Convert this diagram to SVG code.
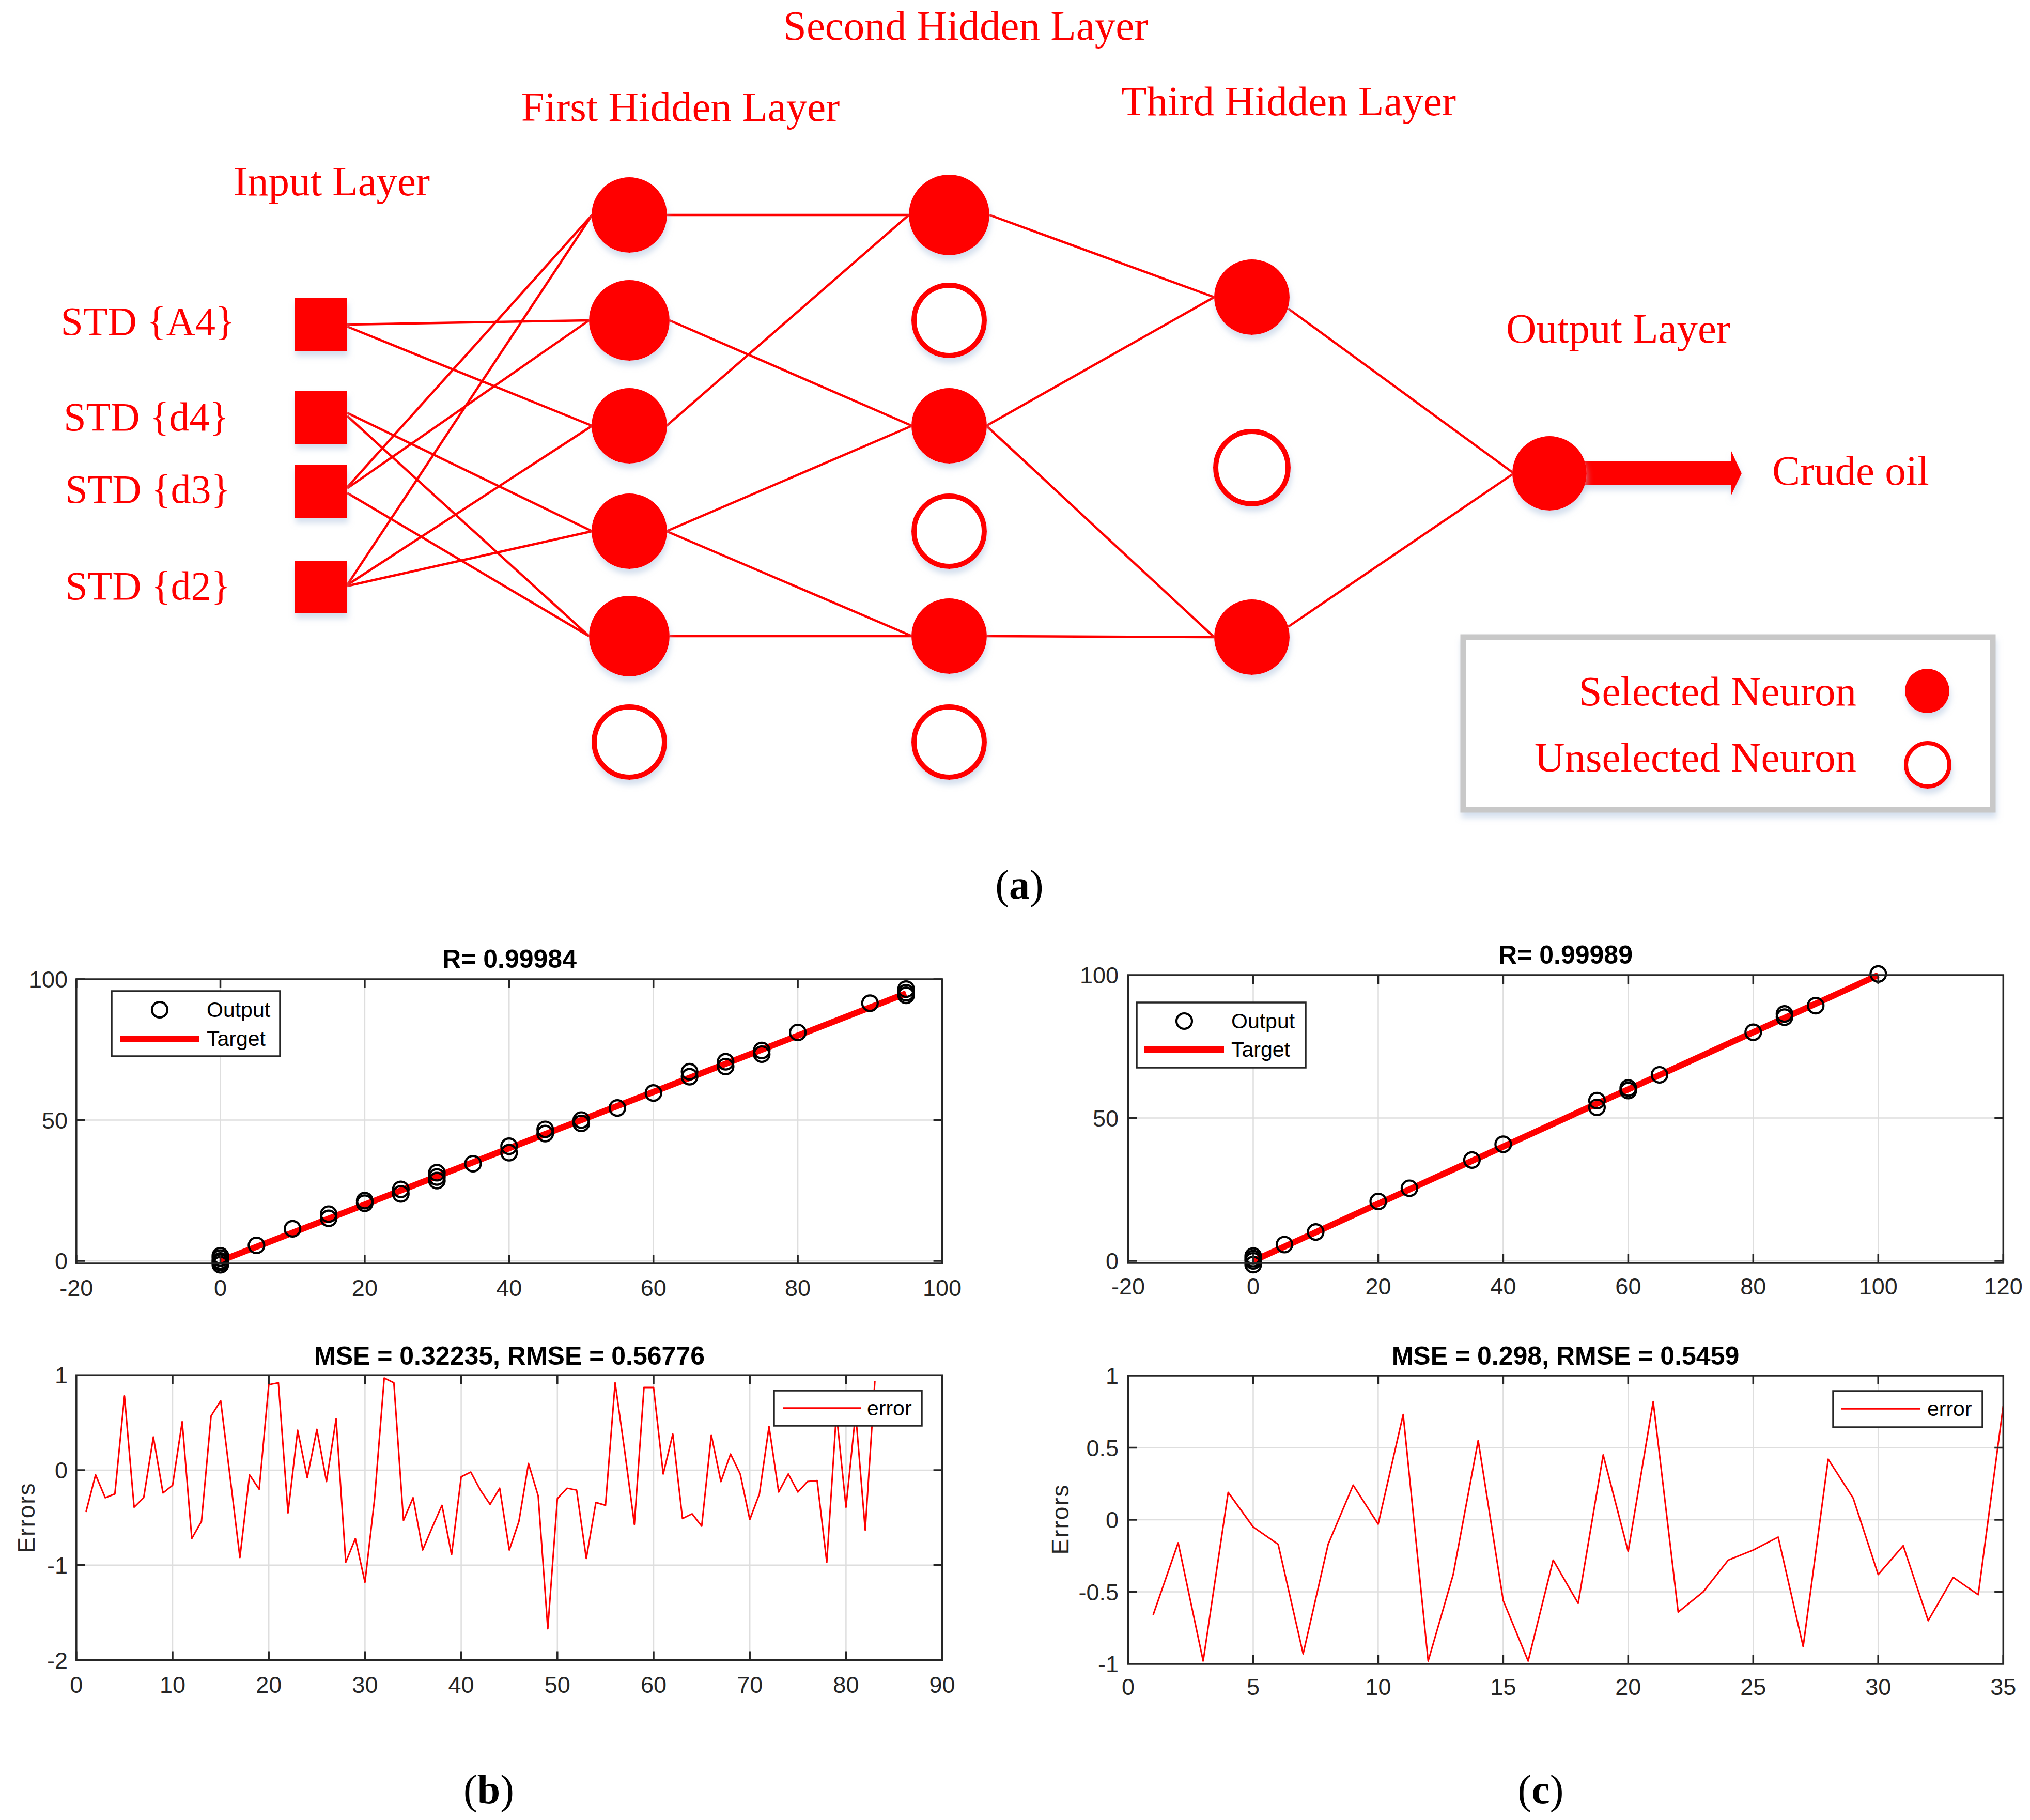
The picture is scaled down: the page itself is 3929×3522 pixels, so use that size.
<svg xmlns="http://www.w3.org/2000/svg" width="3929" height="3522" viewBox="0 0 3929 3522">
<defs>
<filter id="sh" x="-40%" y="-40%" width="180%" height="190%">
<feDropShadow dx="2" dy="10" stdDeviation="6" flood-color="#a9c0dd" flood-opacity="0.5"/>
</filter>
</defs>
<style>
.t{font-family:"Liberation Serif","Times New Roman",serif;fill:#ff0000;font-size:81px;text-anchor:middle}
.lbl{font-family:"Liberation Serif","Times New Roman",serif;fill:#ff0000;font-size:78px;text-anchor:middle}
.cap{font-family:"Liberation Serif","Times New Roman",serif;fill:#000;font-size:80px;text-anchor:middle}
.conn line{stroke:#ff0000;stroke-width:4.5}
.on{fill:#ff0000;filter:url(#sh)}
.off{fill:#ffffff;stroke:#ff0000;stroke-width:10;filter:url(#sh)}
.ax{fill:none;stroke:#262626;stroke-width:3.5}
.grid{fill:none;stroke:#dedede;stroke-width:2.5}
.tk{font-family:"Liberation Sans",Arial,sans-serif;font-size:45px;fill:#262626}
.tx{text-anchor:middle}
.ty{text-anchor:end}
.ttl{font-family:"Liberation Sans",Arial,sans-serif;font-size:50px;font-weight:bold;fill:#000;text-anchor:middle}
.mk{fill:none;stroke:#000;stroke-width:4.2}
.tgt{stroke:#ff0000;stroke-width:12;fill:none}
.err{stroke:#ff0000;stroke-width:3;fill:none;stroke-linejoin:round}
.leg{fill:#fff;stroke:#262626;stroke-width:3.5}
.lt{font-family:"Liberation Sans",Arial,sans-serif;font-size:41px;fill:#000}
.yl{font-family:"Liberation Sans",Arial,sans-serif;font-size:46px;fill:#262626;text-anchor:middle;letter-spacing:2px}
</style>
<rect width="3929" height="3522" fill="#fff"/>

<!-- ===== (a) network ===== -->
<g id="layer-titles">
<text class="t" x="1869" y="77">Second Hidden Layer</text>
<text class="t" x="1317" y="234">First Hidden Layer</text>
<text class="t" x="2494" y="223">Third Hidden Layer</text>
<text class="t" x="642" y="378">Input Layer</text>
<text class="t" x="3132" y="663">Output Layer</text>
</g>

<g id="connectors" class="conn">
<line x1="672" y1="628" x2="1140" y2="620"/>
<line x1="672" y1="632" x2="1146" y2="824"/>
<line x1="672" y1="799" x2="1146" y2="1028"/>
<line x1="672" y1="805" x2="1140" y2="1231"/>
<line x1="672" y1="943" x2="1146" y2="416"/>
<line x1="672" y1="945" x2="1140" y2="620"/>
<line x1="672" y1="954" x2="1140" y2="1231"/>
<line x1="672" y1="1132" x2="1146" y2="416"/>
<line x1="672" y1="1132" x2="1146" y2="824"/>
<line x1="672" y1="1134" x2="1146" y2="1028"/>
<line x1="1290" y1="416" x2="1759" y2="416"/>
<line x1="1296" y1="620" x2="1765" y2="824"/>
<line x1="1290" y1="824" x2="1759" y2="416"/>
<line x1="1290" y1="1028" x2="1765" y2="824"/>
<line x1="1290" y1="1028" x2="1765" y2="1231"/>
<line x1="1296" y1="1231" x2="1765" y2="1231"/>
<line x1="1915" y1="416" x2="2350" y2="575"/>
<line x1="1909" y1="824" x2="2350" y2="575"/>
<line x1="1909" y1="824" x2="2350" y2="1233"/>
<line x1="1909" y1="1231" x2="2350" y2="1233"/>
<line x1="2493" y1="597" x2="2930" y2="916"/>
<line x1="2493" y1="1213" x2="2930" y2="916"/>
</g>

<g id="input-A4"><rect class="on" x="570" y="577" width="102" height="103"/><text class="lbl" x="286" y="648">STD {A4}</text></g>
<g id="input-d4"><rect class="on" x="570" y="757" width="102" height="102"/><text class="lbl" x="283" y="833">STD {d4}</text></g>
<g id="input-d3"><rect class="on" x="570" y="900" width="102" height="102"/><text class="lbl" x="286" y="973">STD {d3}</text></g>
<g id="input-d2"><rect class="on" x="570" y="1085" width="102" height="102"/><text class="lbl" x="286" y="1160">STD {d2}</text></g>

<g id="h1-1"><circle class="on" cx="1218" cy="416" r="73"/></g>
<g id="h1-2"><circle class="on" cx="1218" cy="620" r="78"/></g>
<g id="h1-3"><circle class="on" cx="1218" cy="824" r="73"/></g>
<g id="h1-4"><circle class="on" cx="1218" cy="1028" r="73"/></g>
<g id="h1-5"><circle class="on" cx="1218" cy="1231" r="78"/></g>
<g id="h1-6"><circle class="off" cx="1218" cy="1436" r="68"/></g>

<g id="h2-1"><circle class="on" cx="1837" cy="416" r="78"/></g>
<g id="h2-2"><circle class="off" cx="1837" cy="620" r="68"/></g>
<g id="h2-3"><circle class="on" cx="1837" cy="824" r="73"/></g>
<g id="h2-4"><circle class="off" cx="1837" cy="1028" r="68"/></g>
<g id="h2-5"><circle class="on" cx="1837" cy="1231" r="73"/></g>
<g id="h2-6"><circle class="off" cx="1837" cy="1436" r="68"/></g>

<g id="h3-1"><circle class="on" cx="2423" cy="575" r="73"/></g>
<g id="h3-2"><circle class="off" cx="2423" cy="905" r="70"/></g>
<g id="h3-3"><circle class="on" cx="2423" cy="1233" r="73"/></g>

<g id="output">
<polygon class="on" points="3000,893 3350,893 3350,871 3371,916 3350,960 3350,938 3000,938"/>
<circle class="on" cx="2999" cy="916" r="72"/>
<text class="t" x="3430" y="938" style="text-anchor:start">Crude oil</text>
</g>

<g id="legend-a">
<rect x="2832" y="1233" width="1025" height="334" fill="#fff" stroke="#c8c8c8" stroke-width="11" filter="url(#sh)"/>
<text class="t" x="3593" y="1365" style="text-anchor:end">Selected Neuron</text>
<text class="t" x="3593" y="1493" style="text-anchor:end">Unselected Neuron</text>
<circle class="on" cx="3730" cy="1337" r="43"/>
<circle cx="3731" cy="1480" r="42" fill="#fff" stroke="#ff0000" stroke-width="8" filter="url(#sh)"/>
</g>

<text class="cap" x="1973" y="1739">(<tspan font-weight="bold">a</tspan>)</text>

<!-- ===== (b) regression ===== -->
<g id="plot-b-top">
<text class="ttl" x="986" y="1873">R= 0.99984</text>
<path class="grid" d="M426.5 1895V2445M705.9 1895V2445M985.3 1895V2445M1264.7 1895V2445M1544.1 1895V2445M147.8 2440H1823.6M147.8 2167.5H1823.6"/>
<line class="tgt" x1="426.5" y1="2440" x2="1753.7" y2="1922.3"/>
<g>
<circle class="mk" cx="426.5" cy="2440" r="15"/><circle class="mk" cx="426.5" cy="2434.6" r="15"/><circle class="mk" cx="426.5" cy="2447.5" r="15"/><circle class="mk" cx="426.5" cy="2430" r="15"/><circle class="mk" cx="426.5" cy="2443" r="15"/>
<circle class="mk" cx="496.4" cy="2410" r="15"/>
<circle class="mk" cx="566.2" cy="2377.9" r="15"/>
<circle class="mk" cx="636.1" cy="2349.5" r="15"/><circle class="mk" cx="636.1" cy="2357.7" r="15"/>
<circle class="mk" cx="705.9" cy="2323.4" r="15"/><circle class="mk" cx="705.9" cy="2328.3" r="15"/>
<circle class="mk" cx="775.8" cy="2301.6" r="15"/><circle class="mk" cx="775.8" cy="2310.3" r="15"/>
<circle class="mk" cx="845.6" cy="2269.4" r="15"/><circle class="mk" cx="845.6" cy="2277.6" r="15"/><circle class="mk" cx="845.6" cy="2284.7" r="15"/>
<circle class="mk" cx="915.5" cy="2252" r="15"/>
<circle class="mk" cx="985.3" cy="2218.2" r="15"/><circle class="mk" cx="985.3" cy="2230.7" r="15"/>
<circle class="mk" cx="1055.2" cy="2185.5" r="15"/><circle class="mk" cx="1055.2" cy="2193.7" r="15"/>
<circle class="mk" cx="1125" cy="2167.5" r="15"/><circle class="mk" cx="1125" cy="2174" r="15"/>
<circle class="mk" cx="1194.9" cy="2144.1" r="15"/>
<circle class="mk" cx="1264.7" cy="2115.2" r="15"/>
<circle class="mk" cx="1334.6" cy="2073.8" r="15"/><circle class="mk" cx="1334.6" cy="2083.6" r="15"/>
<circle class="mk" cx="1404.4" cy="2054.7" r="15"/><circle class="mk" cx="1404.4" cy="2064" r="15"/>
<circle class="mk" cx="1474.3" cy="2032.9" r="15"/><circle class="mk" cx="1474.3" cy="2040" r="15"/>
<circle class="mk" cx="1544.1" cy="1998" r="15"/>
<circle class="mk" cx="1683.8" cy="1941.3" r="15"/>
<circle class="mk" cx="1753.7" cy="1914.1" r="15"/><circle class="mk" cx="1753.7" cy="1921.2" r="15"/><circle class="mk" cx="1753.7" cy="1926.1" r="15"/>
</g>
<rect class="ax" x="147.8" y="1895" width="1675.8" height="550"/>
<path class="ax" d="M147.8 2445v-17M426.5 2445v-17M705.9 2445v-17M985.3 2445v-17M1264.7 2445v-17M1544.1 2445v-17M1823.6 2445v-17M147.8 1895v17M426.5 1895v17M705.9 1895v17M985.3 1895v17M1264.7 1895v17M1544.1 1895v17M1823.6 1895v17M147.8 2440h17M147.8 2167.5h17M147.8 1895h17M1823.6 2440h-17M1823.6 2167.5h-17M1823.6 1895h-17"/>
<g class="tk tx">
<text x="147.8" y="2508">-20</text><text x="426.5" y="2508">0</text><text x="705.9" y="2508">20</text><text x="985.3" y="2508">40</text><text x="1264.7" y="2508">60</text><text x="1544.1" y="2508">80</text><text x="1823.6" y="2508">100</text>
</g>
<g class="tk ty">
<text x="131" y="1911">100</text><text x="131" y="2183.5">50</text><text x="131" y="2456">0</text>
</g>
<rect class="leg" x="216" y="1918" width="326" height="126"/>
<circle class="mk" cx="309" cy="1954" r="15"/>
<text class="lt" x="400" y="1968">Output</text>
<line class="tgt" x1="233" y1="2010" x2="385" y2="2010"/>
<text class="lt" x="400" y="2024">Target</text>
</g>

<!-- ===== (b) errors ===== -->
<g id="plot-b-bottom">
<text class="ttl" x="986" y="2641">MSE = 0.32235, RMSE = 0.56776</text>
<path class="grid" d="M334 2661.2V3212.6M520.2 2661.2V3212.6M706.4 2661.2V3212.6M892.6 2661.2V3212.6M1078.8 2661.2V3212.6M1265 2661.2V3212.6M1451.2 2661.2V3212.6M1637.4 2661.2V3212.6M147.8 2845H1823.6M147.8 3028.8H1823.6"/>
<polyline class="err" points="166.4,2925.9 185,2854.2 203.7,2898.3 222.3,2891 240.9,2701.6 259.5,2916.7 278.1,2898.3 296.8,2780.7 315.4,2889.1 334,2874.4 352.6,2751.3 371.2,2977.3 389.9,2944.3 408.5,2740.2 427.1,2710.8 445.7,2861.5 464.3,3014.1 483,2854.2 501.6,2881.8 520.2,2679.6 538.8,2675.9 557.4,2927.7 576.1,2767.8 594.7,2859.7 613.3,2766 631.9,2867.1 650.5,2745.7 669.2,3023.3 687.8,2977.3 706.4,3061.9 725,2900.1 743.6,2666.7 762.3,2675.9 780.9,2942.4 799.5,2898.3 818.1,2999.4 836.7,2955.3 855.4,2913 874,3008.6 892.6,2857.9 911.2,2848.7 929.8,2883.6 948.5,2911.2 967.1,2879.9 985.7,2999.4 1004.3,2944.3 1022.9,2832.1 1041.6,2894.6 1060.2,3152 1078.8,2900.1 1097.4,2879.9 1116,2883.6 1134.7,3015.9 1153.3,2907.5 1171.9,2913 1190.5,2675.9 1209.1,2808.2 1227.8,2949.8 1246.4,2685.1 1265,2685.1 1283.6,2852.4 1302.2,2775.2 1320.9,2938.7 1339.5,2929.5 1358.1,2953.4 1376.7,2777 1395.3,2867.1 1414,2813.8 1432.6,2852.4 1451.2,2940.6 1469.8,2891 1488.4,2760.5 1507.1,2887.3 1525.7,2852.4 1544.3,2887.3 1562.9,2867.1 1581.5,2865.2 1600.2,3023.3 1618.8,2734.7 1637.4,2916.7 1656,2734.7 1674.6,2960.8 1693.3,2672.2"/>
<rect class="ax" x="147.8" y="2661.2" width="1675.8" height="551.4"/>
<path class="ax" d="M147.8 3212.6v-17M334 3212.6v-17M520.2 3212.6v-17M706.4 3212.6v-17M892.6 3212.6v-17M1078.8 3212.6v-17M1265 3212.6v-17M1451.2 3212.6v-17M1637.4 3212.6v-17M1823.6 3212.6v-17M334 2661.2v17M520.2 2661.2v17M706.4 2661.2v17M892.6 2661.2v17M1078.8 2661.2v17M1265 2661.2v17M1451.2 2661.2v17M1637.4 2661.2v17M147.8 2845h17M147.8 3028.8h17M1823.6 2845h-17M1823.6 3028.8h-17"/>
<g class="tk tx">
<text x="147.8" y="3276">0</text><text x="334" y="3276">10</text><text x="520.2" y="3276">20</text><text x="706.4" y="3276">30</text><text x="892.6" y="3276">40</text><text x="1078.8" y="3276">50</text><text x="1265" y="3276">60</text><text x="1451.2" y="3276">70</text><text x="1637.4" y="3276">80</text><text x="1823.6" y="3276">90</text>
</g>
<g class="tk ty">
<text x="131" y="2677">1</text><text x="131" y="2861">0</text><text x="131" y="3045">-1</text><text x="131" y="3228.6">-2</text>
</g>
<text class="yl" transform="translate(67,2937) rotate(-90)">Errors</text>
<rect class="leg" x="1498" y="2691" width="286" height="68"/>
<line x1="1515" y1="2725" x2="1666" y2="2725" stroke="#ff0000" stroke-width="3.5"/>
<text class="lt" x="1678" y="2739">error</text>
</g>

<!-- ===== (c) regression ===== -->
<g id="plot-c-top">
<text class="ttl" x="3030" y="1865">R= 0.99989</text>
<path class="grid" d="M2425.5 1887V2444M2667.5 1887V2444M2909.4 1887V2444M3151.4 1887V2444M3393.3 1887V2444M3635.3 1887V2444M2183.5 2440H3877.3M2183.5 2163.5H3877.3"/>
<line class="tgt" x1="2425.5" y1="2440" x2="3635.3" y2="1887"/>
<g>
<circle class="mk" cx="2425.5" cy="2440" r="15"/><circle class="mk" cx="2425.5" cy="2430.6" r="15"/><circle class="mk" cx="2425.5" cy="2447.2" r="15"/><circle class="mk" cx="2425.5" cy="2435.6" r="15"/>
<circle class="mk" cx="2486" cy="2408.5" r="15"/>
<circle class="mk" cx="2546.5" cy="2384.1" r="15"/>
<circle class="mk" cx="2667.5" cy="2325" r="15"/>
<circle class="mk" cx="2727.9" cy="2299.5" r="15"/>
<circle class="mk" cx="2848.9" cy="2244.8" r="15"/>
<circle class="mk" cx="2909.4" cy="2214.4" r="15"/>
<circle class="mk" cx="3090.9" cy="2129.8" r="15"/><circle class="mk" cx="3090.9" cy="2143" r="15"/>
<circle class="mk" cx="3151.4" cy="2105.4" r="15"/><circle class="mk" cx="3151.4" cy="2110.4" r="15"/>
<circle class="mk" cx="3211.9" cy="2080" r="15"/>
<circle class="mk" cx="3393.3" cy="1997.6" r="15"/>
<circle class="mk" cx="3453.8" cy="1962.2" r="15"/><circle class="mk" cx="3453.8" cy="1968.3" r="15"/>
<circle class="mk" cx="3514.3" cy="1946.2" r="15"/>
<circle class="mk" cx="3635.3" cy="1884.8" r="15"/>
</g>
<rect class="ax" x="2183.5" y="1887" width="1693.8" height="557"/>
<path class="ax" d="M2183.5 2444v-17M2425.5 2444v-17M2667.5 2444v-17M2909.4 2444v-17M3151.4 2444v-17M3393.3 2444v-17M3635.3 2444v-17M3877.3 2444v-17M2425.5 1887v17M2667.5 1887v17M2909.4 1887v17M3151.4 1887v17M3393.3 1887v17M3635.3 1887v17M2183.5 2440h17M2183.5 2163.5h17M3877.3 2440h-17M3877.3 2163.5h-17"/>
<g class="tk tx">
<text x="2183.5" y="2505">-20</text><text x="2425.5" y="2505">0</text><text x="2667.5" y="2505">20</text><text x="2909.4" y="2505">40</text><text x="3151.4" y="2505">60</text><text x="3393.3" y="2505">80</text><text x="3635.3" y="2505">100</text><text x="3877.3" y="2505">120</text>
</g>
<g class="tk ty">
<text x="2165" y="1903">100</text><text x="2165" y="2179.5">50</text><text x="2165" y="2456">0</text>
</g>
<rect class="leg" x="2200" y="1940" width="327" height="126"/>
<circle class="mk" cx="2292" cy="1976" r="15"/>
<text class="lt" x="2383" y="1990">Output</text>
<line class="tgt" x1="2215" y1="2031" x2="2369" y2="2031"/>
<text class="lt" x="2383" y="2045">Target</text>
</g>

<!-- ===== (c) errors ===== -->
<g id="plot-c-bottom">
<text class="ttl" x="3030" y="2641">MSE = 0.298, RMSE = 0.5459</text>
<path class="grid" d="M2425.5 2662V3220M2667.4 2662V3220M2909.4 2662V3220M3151.3 2662V3220M3393.3 2662V3220M3635.2 2662V3220M2183.5 2801.5H3877.2M2183.5 2941H3877.2M2183.5 3080.5H3877.2"/>
<polyline class="err" points="2231.9,3125.1 2280.3,2985.6 2328.7,3214.4 2377.1,2888 2425.5,2955 2473.8,2988.4 2522.2,3200.5 2570.6,2988.4 2619,2874 2667.4,2949.4 2715.8,2737.3 2764.2,3214.4 2812.6,3047 2861,2787.6 2909.4,3097.2 2957.7,3214.4 3006.1,3019.1 3054.5,3102.8 3102.9,2815.5 3151.3,3002.4 3199.7,2712.2 3248.1,3119.6 3296.5,3080.5 3344.9,3019.1 3393.3,2999.6 3441.6,2974.5 3490,3186.5 3538.4,2823.8 3586.8,2899.2 3635.2,3047 3683.6,2991.2 3732,3136.3 3780.4,3052.6 3828.8,3086.1 3877.2,2720.6"/>
<rect class="ax" x="2183.5" y="2662" width="1693.8" height="558"/>
<path class="ax" d="M2183.5 3220v-17M2425.5 3220v-17M2667.4 3220v-17M2909.4 3220v-17M3151.3 3220v-17M3393.3 3220v-17M3635.2 3220v-17M3877.2 3220v-17M2425.5 2662v17M2667.4 2662v17M2909.4 2662v17M3151.3 2662v17M3393.3 2662v17M3635.2 2662v17M2183.5 2801.5h17M2183.5 2941h17M2183.5 3080.5h17M3877.2 2801.5h-17M3877.2 2941h-17M3877.2 3080.5h-17"/>
<g class="tk tx">
<text x="2183.5" y="3280">0</text><text x="2425.5" y="3280">5</text><text x="2667.4" y="3280">10</text><text x="2909.4" y="3280">15</text><text x="3151.3" y="3280">20</text><text x="3393.3" y="3280">25</text><text x="3635.2" y="3280">30</text><text x="3877.2" y="3280">35</text>
</g>
<g class="tk ty">
<text x="2165" y="2678">1</text><text x="2165" y="2817.5">0.5</text><text x="2165" y="2957">0</text><text x="2165" y="3096.5">-0.5</text><text x="2165" y="3236">-1</text>
</g>
<text class="yl" transform="translate(2068,2940) rotate(-90)">Errors</text>
<rect class="leg" x="3548" y="2692" width="289" height="70"/>
<line x1="3563" y1="2726" x2="3717" y2="2726" stroke="#ff0000" stroke-width="3.5"/>
<text class="lt" x="3730" y="2740">error</text>
</g>

<text class="cap" x="946" y="3490">(<tspan font-weight="bold">b</tspan>)</text>
<text class="cap" x="2982" y="3490">(<tspan font-weight="bold">c</tspan>)</text>
</svg>
